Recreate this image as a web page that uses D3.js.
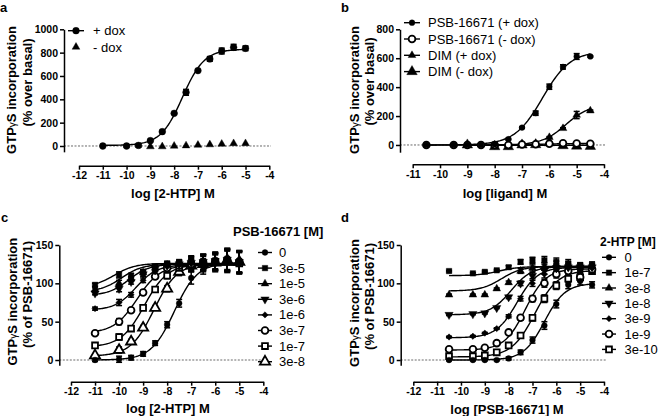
<!DOCTYPE html>
<html><head><meta charset="utf-8">
<script src="https://cdn.jsdelivr.net/npm/d3@7"></script>
<style>
body{margin:0;background:#fff}
svg{display:block}
text{font-family:"Liberation Sans",Arial,Helvetica,sans-serif}
</style></head><body>
<svg id="chart" width="660" height="416"></svg>
<script>
// ---------------- DATA ----------------
// Panel a
const aX = [-11,-10,-9.5,-9,-8.5,-8,-7.5,-7,-6.5,-6,-5.5,-5];
const aPlusDox = [0,0,5,46,123,280,460,646,746,814,846,837];
const aPlusDoxErr = [0,8,15,5,5,5,25,5,20,25,25,20];
const aMinusDoxX = [-9,-8.5,-8,-7.5,-7,-6.5,-6,-5.5,-5];
const aMinusDox = [-5,-5,0,3,8,12,17,22,22];
const aPlusDoxFit = [5,830,-7.65,0.95]; // bottom, top, logEC50, hill
const aXTicks = [-12,-11,-10,-9,-8,-7,-6,-5,-4];
const aYTicks = [0,200,400,600,800,1000];
const aLabels = ["+ dox","- dox"];

// Panel b
const bX = [-10.5,-9.5,-9,-8.5,-8,-7.5,-7,-6.5,-6,-5.5,-5,-4.5];
const bPsbPlus = [0,0,0,0,5,40,120,220,403,540,612,612];
const bPsbPlusErr = [0,0,0,0,3,5,5,15,18,15,20,5];
const bPsbMinus = [0,0,0,0,0,0,3,5,8,12,10,8];
const bPsbMinusErr = [3,3,3,3,3,3,3,3,3,3,3,3];
const bDimX = [-9,-8,-7.5,-7,-6.5,-6,-5.5,-5,-4.5];
const bDimPlus = [0,0,2,5,10,53,115,207,237];
const bDimPlusErr = [0,0,0,0,0,5,5,25,5];
const bDimMinus = [0,-12,-12,0,2,15,-5,-8,-10];
const bDimMinusErr = [5,8,10,5,5,8,5,5,5];
const bPsbPlusFit = [0,650,-6.25,0.85];
const bPsbMinusFit = [0,10,-6.3,1];
const bDimPlusFit = [0,280,-5.4,1];
const bDimMinusFit = [-2,-2,-6,1];
const bXTicks = [-11,-10,-9,-8,-7,-6,-5,-4];
const bYTicks = [0,200,400,600,800];
const bLabels = ["PSB-16671 (+ dox)","PSB-16671 (- dox)","DIM (+ dox)","DIM (- dox)"];

// Panel c  (PSB-16671 concentrations)
const cX = [-11,-10,-9.5,-9,-8.5,-8,-7.5,-7,-6.5,-6,-5.5,-5];
const cVal0   = [0,1,3,8,22,46,74,107,122,126,128,127];
const cVal3e5 = [98,111,110,115,122,125,126,128,128,130,132,129];
const cVal1e5 = [92,100,106,114,120,124,125,127,128,129,131,128];
const cVal3e6 = [87,93,102,112,119,123,125,127,128,129,131,128];
const cVal1e6 = [67,75,85,104,115,122,124,126,127,128,130,127];
const cVal3e7 = [35,50,65,88,109,120,123,125,127,128,130,128];
const cVal1e7 = [19,30,41,68,92,110,120,124,126,128,129,126];
const cVal3e8 = [6,13,24,42,68,93,115,123,125,127,130,128];
const cErr = [2,4,3,3,3,4,5,8,10,11,14,14];
const cFit0   = [0,127,-7.7,0.9];
const cFit3e5 = [95,126,-10.2,1];
const cFit1e5 = [89,125,-9.9,1];
const cFit3e6 = [84,125,-9.6,1];
const cFit1e6 = [65,124,-9.3,1];
const cFit3e7 = [35,124,-9.25,0.9];
const cFit1e7 = [17,125,-8.95,0.9];
const cFit3e8 = [5,126,-8.55,0.9];
const cXTicks = [-12,-11,-10,-9,-8,-7,-6,-5,-4];
const cYTicks = [0,50,100,150];
const cLabels = ["0","3e-5","1e-5","3e-6","1e-6","3e-7","1e-7","3e-8"];

// Panel d  (2-HTP concentrations)
const dX = [-10.5,-9.5,-9,-8.5,-8,-7.5,-7,-6.5,-6,-5.5,-5,-4.5];
const dVal0    = [0,0,0,0,2,10,26,45,73,98,103,98];
const dVal1e7  = [116,113,115,117,121,128,130,130,128,126,122,124];
const dVal3e8  = [85,85,85,93,101,116,120,122,124,123,121,122];
const dVal1e8  = [59,60,61,68,82,100,110,117,120,121,121,121];
const dVal3e9  = [30,31,35,41,57,80,100,112,118,120,119,120];
const dVal1e9  = [14,14,16,22,36,55,80,100,112,116,108,118];
const dVal3e10 = [5,5,6,10,19,32,55,80,97,106,108,116];
const dErr = [1,1,1,1,2,3,4,5,5,5,5,4];
const dFit0    = [0,100,-6.5,1];
const dFit1e7  = [110,122,-8.4,1];
const dFit3e8  = [90,122,-8.3,1];
const dFit1e8  = [59,122,-7.9,1];
const dFit3e9  = [29,121,-7.65,1];
const dFit1e9  = [13,119,-7.3,1];
const dFit3e10 = [4,117,-6.9,0.9];
const dXTicks = [-12,-11,-10,-9,-8,-7,-6,-5,-4];
const dYTicks = [0,50,100,150];
const dLabels = ["0","1e-7","3e-8","1e-8","3e-9","1e-9","3e-10"];

// ---------------- DRAWING ----------------
const svg = d3.select("#chart");
const FONT = '"Liberation Sans",Arial,Helvetica,sans-serif';
function fourPL(p, x){ return p[0] + (p[1]-p[0])/(1+Math.pow(10,(p[2]-x)*p[3])); }

const M = {
  circle:   {type:d3.symbolCircle,   size:26, open:false},
  bigCircle:{type:d3.symbolCircle,   size:36, open:false},
  square:   {type:d3.symbolSquare,   size:30, open:false},
  tri:      {type:d3.symbolTriangle, size:26, open:false},
  triDown:  {type:d3.symbolTriangle, size:30, open:false, rot:180},
  diamond:  {type:d3.symbolSquare,   size:20, open:false, rot:45},
  oCircle:  {type:d3.symbolCircle,   size:36, open:true},
  oSquare:  {type:d3.symbolSquare,   size:34, open:true},
  oTri:     {type:d3.symbolTriangle, size:44, open:true},
  bigTri:   {type:d3.symbolTriangle, size:48, open:false}
};

function drawMarker(g, cx, cy, m){
  g.append("path")
    .attr("d", d3.symbol().type(m.type).size(m.size)())
    .attr("transform", `translate(${cx},${cy}) rotate(${m.rot||0})`)
    .attr("fill", m.open ? "#fff" : "#000")
    .attr("stroke", "#000")
    .attr("stroke-width", m.open ? 1.8 : 0.4);
}

function styleAxis(sel){
  sel.attr("font-family", FONT).attr("font-size", 10.5).attr("font-weight","bold");
  sel.select(".domain").attr("stroke","#000").attr("stroke-width",1.5);
  sel.selectAll(".tick line").attr("stroke","#000").attr("stroke-width",1.5);
  sel.selectAll(".tick text").attr("fill","#000");
}

function drawPanel(cfg){
  const g = svg.append("g");
  const x = d3.scaleLinear().domain(cfg.xDomain).range(cfg.xRange);
  const y = d3.scaleLinear().domain(cfg.yDomain).range(cfg.yRange);

  // baseline
  g.append("line").attr("x1",cfg.yAxisX).attr("x2",cfg.baseEnd)
    .attr("y1",y(0)).attr("y2",y(0))
    .attr("stroke","#444").attr("stroke-width",0.8).attr("stroke-dasharray","2,1.5");

  // axes
  g.append("g").attr("transform",`translate(0,${cfg.xAxisY})`)
    .call(d3.axisBottom(x).tickValues(cfg.xTicks).tickSize(4).tickSizeOuter(0).tickPadding(2).tickFormat(d=>String(d)))
    .call(styleAxis);
  g.append("g").attr("transform",`translate(${cfg.yAxisX},0)`)
    .call(d3.axisLeft(y).tickValues(cfg.yTicks).tickSize(4).tickSizeOuter(0).tickPadding(2).tickFormat(d=>String(d)))
    .call(styleAxis);

  // curves
  const line = d3.line().x(d=>x(d[0])).y(d=>y(d[1]));
  cfg.series.forEach(s=>{
    if(!s.fit) return;
    const lo = d3.min(s.x), hi = d3.max(s.x);
    const pts = d3.range(lo, hi+0.0001, 0.05).map(v=>[v, fourPL(s.fit, v)]);
    g.append("path").attr("d", line(pts)).attr("fill","none")
      .attr("stroke","#000").attr("stroke-width",1.4);
  });
  // error bars
  cfg.series.forEach(s=>{
    if(!s.err) return;
    s.x.forEach((xv,i)=>{
      const e = s.err[i]; if(!e) return;
      const cx = x(xv), y1 = y(s.y[i]-e), y2 = y(s.y[i]+e);
      g.append("line").attr("x1",cx).attr("x2",cx).attr("y1",y1).attr("y2",y2).attr("stroke","#000").attr("stroke-width",1.5);
      [y1,y2].forEach(yy=> g.append("line").attr("x1",cx-3).attr("x2",cx+3).attr("y1",yy).attr("y2",yy).attr("stroke","#000").attr("stroke-width",1.5));
    });
  });
  // markers
  cfg.series.slice().reverse().forEach(s=>{
    s.x.forEach((xv,i)=> drawMarker(g, x(xv), y(s.y[i]), s.marker));
  });

  // x title
  g.append("text").attr("x",cfg.xTitle[1]).attr("y",cfg.xTitle[2]).attr("text-anchor","middle")
    .attr("font-size",13).attr("font-weight","bold").text(cfg.xTitle[0]);
  // y title (2 lines)
  const t1 = g.append("text").attr("transform",`translate(${cfg.yT1[0]},${cfg.yT1[1]}) rotate(-90)`)
    .attr("text-anchor","middle").attr("font-size",13).attr("font-weight","bold");
  t1.append("tspan").text("GTP");
  t1.append("tspan").attr("font-size",10).attr("font-weight","normal").text("\u03b3");
  t1.append("tspan").text("S incorporation");
  g.append("text").attr("transform",`translate(${cfg.yT2[0]},${cfg.yT2[1]}) rotate(-90)`)
    .attr("text-anchor","middle").attr("font-size",13).attr("font-weight","bold").text(cfg.yT2[2]);
  // panel letter
  g.append("text").attr("x",cfg.letter[1]).attr("y",cfg.letter[2]).attr("font-size",13)
    .attr("font-weight","bold").text(cfg.letter[0]);

  // legend
  const L = cfg.legend;
  if(L.title){
    g.append("text").attr("x",L.title[1]).attr("y",L.title[2]).attr("font-size",L.title[3])
      .attr("font-weight","bold").text(L.title[0]);
  }
  L.items.forEach((it,i)=>{
    const yy = L.y0 + i*L.dy;
    if(it.line) g.append("line").attr("x1",L.lx1).attr("x2",L.lx2).attr("y1",yy).attr("y2",yy)
      .attr("stroke","#000").attr("stroke-width",1.4);
    drawMarker(g, (L.lx1+L.lx2)/2, yy, it.marker);
    g.append("text").attr("x",L.tx).attr("y",yy+4.5).attr("font-size",13).text(it.label);
  });
}

// ---- Panel a
drawPanel({
  xDomain:[-12,-4], xRange:[79,269.3], yDomain:[-50,1000], yRange:[151.83,29.3],
  xAxisY:165.7, yAxisX:64, baseEnd:271, xTicks:aXTicks, yTicks:aYTicks,
  series:[
    {x:aX, y:aPlusDox, err:aPlusDoxErr, fit:aPlusDoxFit, marker:M.bigCircle},
    {x:aMinusDoxX, y:aMinusDox, marker:M.tri}
  ],
  xTitle:["log [2-HTP] M",173,197.5],
  yT1:[16,90], yT2:[31.5,82.5,"(% over basal)"],
  letter:["a",0,12],
  legend:{y0:30.7, dy:16.3, lx1:68, lx2:84, tx:93,
    items:[{label:aLabels[0],marker:M.bigCircle,line:true},{label:aLabels[1],marker:M.tri,line:false}]}
});

// ---- Panel b
drawPanel({
  xDomain:[-11,-4], xRange:[412.7,604], yDomain:[-50,800], yRange:[152.2,29.3],
  xAxisY:164.3, yAxisX:400, baseEnd:606, xTicks:bXTicks, yTicks:bYTicks,
  series:[
    {x:bX, y:bPsbPlus, err:bPsbPlusErr, fit:bPsbPlusFit, marker:M.circle},
    {x:bX, y:bPsbMinus, err:bPsbMinusErr, fit:bPsbMinusFit, marker:M.oCircle},
    {x:bDimX, y:bDimPlus, err:bDimPlusErr, fit:bDimPlusFit, marker:M.tri},
    {x:bDimX, y:bDimMinus, err:bDimMinusErr, fit:bDimMinusFit, marker:M.bigTri}
  ],
  xTitle:["log [ligand] M",505,197.5],
  yT1:[358.5,90], yT2:[374,81.5,"(% over basal)"],
  letter:["b",341,12],
  legend:{y0:22.7, dy:16.3, lx1:404, lx2:420, tx:428,
    items:[{label:bLabels[0],marker:M.circle,line:true},{label:bLabels[1],marker:M.oCircle,line:true},
           {label:bLabels[2],marker:M.tri,line:true},{label:bLabels[3],marker:M.bigTri,line:true}]}
});

// ---- Panel c
const cMarkers = [M.circle,M.square,M.tri,M.triDown,M.diamond,M.oCircle,M.oSquare,M.oTri];
const cVals = [cVal0,cVal3e5,cVal1e5,cVal3e6,cVal1e6,cVal3e7,cVal1e7,cVal3e8];
const cFits = [cFit0,cFit3e5,cFit1e5,cFit3e6,cFit1e6,cFit3e7,cFit1e7,cFit3e8];
drawPanel({
  xDomain:[-12,-4], xRange:[71,263.3], yDomain:[-7,150], yRange:[365.37,245],
  xAxisY:381.7, yAxisX:59.3, baseEnd:263.3, xTicks:cXTicks, yTicks:cYTicks,
  series: cVals.map((v,i)=>({x:cX, y:v, err:cErr, fit:cFits[i], marker:cMarkers[i]})),
  xTitle:["log [2-HTP] M",168,412.5],
  yT1:[16.5,301.7], yT2:[31.5,294.5,"(% of PSB-16671)"],
  letter:["c",1,222],
  legend:{title:["PSB-16671 [M]",233,236,13], y0:252.5, dy:15.6, lx1:258, lx2:272, tx:279,
    items:cLabels.map((l,i)=>({label:l, marker:cMarkers[i], line:true}))}
});

// ---- Panel d
const dMarkers = [M.circle,M.square,M.tri,M.triDown,M.diamond,M.oCircle,M.oSquare];
const dVals = [dVal0,dVal1e7,dVal3e8,dVal1e8,dVal3e9,dVal1e9,dVal3e10];
const dFits = [dFit0,dFit1e7,dFit3e8,dFit1e8,dFit3e9,dFit1e9,dFit3e10];
drawPanel({
  xDomain:[-12,-4], xRange:[413.3,604], yDomain:[-7,150], yRange:[365.37,245],
  xAxisY:381.7, yAxisX:400.7, baseEnd:606, xTicks:dXTicks, yTicks:dYTicks,
  series: dVals.map((v,i)=>({x:dX, y:v, err:dErr, fit:dFits[i], marker:dMarkers[i]})),
  xTitle:["log [PSB-16671] M",507,413.5],
  yT1:[358.5,303], yT2:[374,296.5,"(% of PSB-16671)"],
  letter:["d",341,222],
  legend:{title:["2-HTP [M]",600,246,12], y0:257.3, dy:15.35, lx1:602, lx2:616, tx:624.5,
    items:dLabels.map((l,i)=>({label:l, marker:dMarkers[i], line:true}))}
});
</script>
</body></html>
